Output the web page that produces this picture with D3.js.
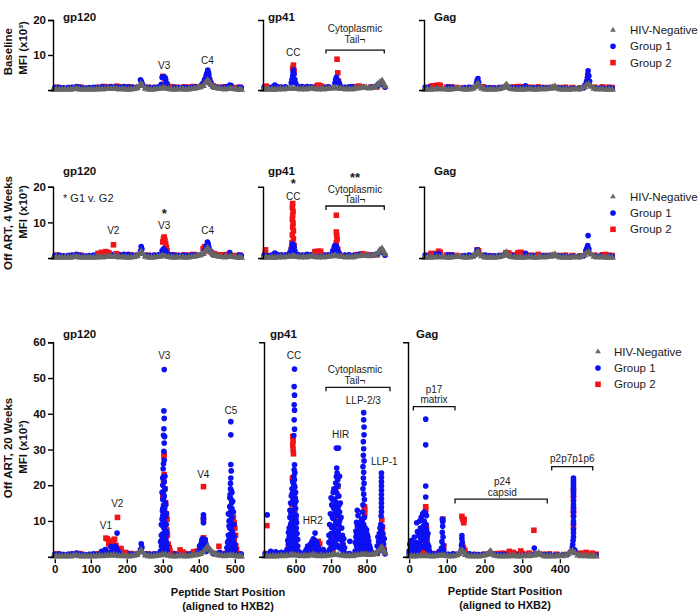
<!DOCTYPE html>
<html><head><meta charset="utf-8">
<script src="https://cdn.jsdelivr.net/npm/d3@7"></script>
<style>body{margin:0;background:#fff}svg{display:block}</style>
</head><body><svg id="c" width="700" height="613"></svg>
<script>
// ---------------- DATA ----------------
const proteins = ["gp120", "gp41", "Gag"];
const timepoints = ["Baseline", "Off ART, 4 Weeks", "Off ART, 20 Weeks"];
const seriesNames = ["HIV-Negative", "Group 1", "Group 2"];
const yTicksEarly = [10, 20];
const yTicksLate = [10, 20, 30, 40, 50, 60];
const xTicksGp120 = [0, 100, 200, 300, 400, 500];
const xTicksGp41 = [600, 700, 800];
const xTicksGag = [0, 100, 200, 300, 400];

// HIV-negative controls [peptide start, MFI x10^3]
const negGp120 = [[-4,.1],[4,.2],[12,.1],[20,.2],[28,.1],[36,.2],[44,.1],[52,.3],[60,.4],[68,.2],[76,.1],[84,.2],[92,.1],[100,.2],[108,.1],[116,.2],[124,.3],[132,.2],[140,.3],[148,.4],[156,.3],[164,.5],[172,.3],[180,.2],[188,.3],[196,.2],[204,.1],[212,.2],[220,.3],[228,.6],[236,1.3],[240,1.8],[244,1.2],[252,.4],[260,.2],[268,.1],[276,.2],[284,.3],[292,.4],[300,.6],[308,.5],[316,.3],[324,.2],[332,.1],[340,.2],[348,.3],[356,.2],[364,.1],[372,.2],[380,.3],[388,.4],[396,.6],[404,.8],[412,1.2],[418,2.0],[424,2.8],[428,2.4],[434,1.6],[440,1.0],[448,.6],[456,.4],[464,.3],[472,.2],[480,.3],[488,.4],[496,.3],[504,.2],[512,.1],[518,.1]];
const negGp41 = [[512,.1],[520,.2],[528,.1],[536,.2],[544,.1],[552,.2],[560,.3],[568,.2],[576,.3],[584,.4],[592,.5],[600,.4],[608,.3],[616,.2],[624,.3],[632,.2],[640,.4],[648,.5],[656,.3],[664,.2],[672,.3],[680,.2],[688,.3],[696,.4],[704,.5],[712,.6],[720,.5],[728,.4],[736,.3],[744,.2],[752,.3],[760,.2],[768,.4],[776,.5],[784,.6],[792,.7],[800,.6],[808,.5],[816,.6],[824,.8],[832,1.4],[838,2.2],[844,2.6],[848,1.8],[852,1.0]];
const negGag = [[-2,.1],[6,.2],[14,.1],[22,.2],[30,.3],[38,.2],[46,.3],[54,.2],[62,.1],[70,.2],[78,.3],[86,.4],[94,.3],[102,.2],[110,.1],[118,.2],[126,.4],[132,.8],[136,1.4],[140,1.8],[144,1.2],[150,.5],[158,.2],[166,.1],[174,.2],[182,.1],[190,.2],[198,.3],[206,.6],[212,1.1],[216,1.5],[220,.8],[228,.3],[236,.2],[244,.1],[252,.2],[260,.1],[268,.2],[276,.3],[284,.2],[292,.1],[300,.2],[308,.3],[316,.2],[324,.3],[332,.4],[338,.7],[344,1.0],[350,.5],[358,.2],[366,.1],[374,.2],[382,.1],[390,.2],[398,.3],[406,.2],[414,.4],[422,.8],[428,1.4],[434,1.6],[440,1.0],[448,.4],[456,.2],[464,.3],[472,.2],[480,.1],[488,.2],[496,.1]];

// Low-level background reactivity (all timepoints)
const g1LowGp120 = [[0,.7],[12,.8],[24,.6],[36,.7],[48,.8],[60,1.0],[72,.7],[84,.6],[96,.7],[108,.8],[120,.7],[132,.9],[144,.8],[156,1.0],[168,.9],[180,.8],[192,1.0],[204,.9],[216,.7],[228,.8],[252,.8],[264,.7],[276,.8],[288,.9],[320,.9],[332,.8],[344,.7],[356,.8],[368,.7],[380,.8],[392,.9],[440,.9],[452,.8],[464,.7],[476,.9],[512,.8],[518,.7]];
const g2LowGp120 = [[4,.8],[20,.6],[44,.7],[64,.9],[72,.8],[100,.6],[120,.8],[136,1.0],[150,.9],[172,1.1],[186,.9],[200,.8],[212,.9],[228,.7],[260,.8],[280,.7],[326,.9],[340,.8],[360,.9],[372,.8],[384,1.0],[396,.8],[444,.9],[456,.8],[470,.9],[500,.7],[514,.8]];
const g1LowGp41 = [[514,.8],[526,.7],[538,.9],[544,1.4],[550,1.0],[562,.8],[574,.9],[610,.9],[622,.8],[634,1.0],[646,.9],[658,.8],[670,.7],[682,.8],[694,.9],[740,.8],[752,.9],[764,.7],[776,.8],[816,.9],[828,1.0],[852,.8]];
const g2LowGp41 = [[516,.9],[530,.7],[560,.8],[620,.7],[644,.9],[662,1.2],[672,1.0],[690,.8],[740,.7],[770,.9],[780,1.0],[812,.8],[830,.9]];
const g1LowGag = [[0,.8],[12,.9],[24,1.0],[60,.9],[72,.8],[104,.7],[116,.8],[128,.7],[160,.8],[172,.7],[184,.6],[196,.7],[208,.8],[228,.7],[240,.6],[252,.7],[264,.8],[276,.6],[288,.7],[300,.6],[312,.7],[324,.6],[348,.7],[360,.6],[372,.5],[384,.4],[396,.5],[408,.4],[420,.6],[452,.5],[464,.6],[476,.5],[488,.6],[496,.5]];
const g2LowGag = [[4,.7],[16,1.0],[30,1.3],[40,1.2],[56,.8],[70,.9],[84,.7],[100,.6],[120,.7],[150,.8],[176,.6],[200,.7],[224,.8],[236,.9],[248,1.0],[262,.9],[280,.8],[300,.9],[320,.7],[336,.8],[356,.7],[372,.8],[390,.7],[410,.6],[450,.8],[470,.9],[486,.8],[496,.7]];

// Baseline
const baseG1Gp120 = [[238,2.9],[240,2.5],[242,2.0],[244,1.4],[296,1.6],[298,3.6],[300,3.8],[302,3.7],[304,3.8],[306,3.5],[308,3.0],[310,2.0],[312,1.3],[408,1.5],[412,2.0],[416,3.0],[420,4.0],[422,4.6],[424,5.2],[425,5.7],[427,5.0],[428,4.2],[430,3.2],[433,2.2],[436,1.4],[486,1.4],[490,1.3]];
const baseG2Gp120 = [[300,3.9],[306,3.2],[312,1.6],[318,1.0],[426,3.0],[430,2.6],[434,1.8],[440,1.2]];
const baseG1Gp41 = [[590,2.0],[592,3.0],[594,4.0],[595,5.0],[596,5.7],[598,4.5],[600,3.0],[602,2.0],[606,1.2],[620,1.0],[712,2.0],[714,3.0],[716,3.6],[720,2.8],[724,2.0],[726,1.4],[760,1.0],[832,1.5],[836,1.9],[840,1.6]];
const baseG2Gp41 = [[520,1.1],[594,6.2],[596,7.1],[598,5.5],[666,1.4],[672,1.2],[718,8.8],[720,4.9],[722,2.5],[778,1.1],[790,.9]];
const baseG1Gag = [[136,2.0],[138,2.8],[140,3.3],[142,2.2],[266,1.2],[424,1.5],[428,2.5],[430,3.5],[431,4.5],[432,5.5],[434,4.0],[436,2.5]];
const baseG2Gag = [[20,1.2],[36,1.4],[40,1.3],[138,1.3],[152,.9]];

// Off ART, 4 weeks
const w4G1Gp120 = [[60,.9],[204,1.0],[238,2.0],[240,3.2],[242,2.5],[298,2.0],[302,2.6],[304,2.3],[308,2.0],[312,1.2],[416,2.0],[420,3.0],[422,3.5],[424,4.5],[426,4.0],[428,3.0],[432,2.0],[486,1.5]];
const w4G2Gp120 = [[120,1.3],[130,1.6],[142,1.8],[150,1.5],[163,3.7],[170,1.2],[300,4.5],[302,5.5],[304,5.9],[306,5.0],[308,4.0],[310,3.0],[312,2.0],[412,2.6],[416,3.2],[420,2.0],[436,1.5],[444,1.2],[460,.9],[480,1.0]];
const w4G1Gp41 = [[586,1.5],[590,2.5],[592,3.5],[594,4.0],[596,3.8],[598,3.0],[600,2.0],[604,1.2],[706,2.0],[710,3.0],[712,3.5],[714,3.4],[716,3.2],[718,2.6],[720,2.0],[724,1.4],[780,1.0],[836,1.5],[840,2.1],[844,1.6]];
const w4G2Gp41 = [[518,2.3],[594,15.3],[593,14.2],[595,13.1],[594,12.0],[593,10.9],[595,9.8],[594,8.7],[596,7.6],[593,6.5],[596,5.4],[592,4.3],[598,3.5],[590,2.5],[656,1.8],[664,1.9],[672,1.9],[716,12.0],[716,7.3],[717,6.3],[718,5.3],[716,4.3],[714,3.3],[720,2.5],[790,1.2],[800,1.0]];
const w4G1Gag = [[36,1.2],[136,1.5],[138,2.3],[140,1.8],[266,1.3],[426,2.0],[428,2.5],[430,3.0],[431,3.5],[432,6.3],[434,2.5]];
const w4G2Gag = [[16,1.3],[36,1.9],[40,1.6],[138,2.3],[142,2.0],[214,1.5],[222,1.4],[246,1.5],[254,1.6],[262,1.2],[300,1.0],[478,1.0]];

// Off ART, 20 weeks
const w20G1Gp120 = [[130,1.5],[140,2.0],[150,1.2],[156,2.8],[160,2.4],[164,2.0],[168,3.0],[172,2.2],[173,6.6],[176,1.5],[238,2.0],[240,3.6],[242,2.6],
 [304,52.4],[303,40.8],[304,38.7],[303,35.8],[302,34.0],[305,33.6],[304,31.8],[303,29.5],[301,24.6],[302,22.4],[304,21.0],[300,20.0],[306,19.0],[302,18.2],[304,17.0],[300,16.0],[307,15.2],[302,14.4],[305,13.5],[299,12.8],[303,12.0],[308,11.2],[301,10.4],[305,9.6],[298,8.8],[303,8.0],[307,7.2],[300,6.4],[305,5.6],[298,4.8],[302,4.0],[306,3.2],[300,2.4],[304,1.8],[296,1.4],[310,2.0],[312,3.0],[309,6.0],[310,9.0],
 [296,6.0],[298,10.5],[300,13.5],[302,16.5],[304,8.5],[306,12.5],[308,14.5],[296,3.0],[298,18.0],[300,22.0],[306,22.5],[304,27.0],[302,26.0],[300,11.5],[308,5.0],[310,4.0],[294,1.6],[312,1.8],[294,4.2],[296,9.0],[310,12.0],[311,7.0],
 [400,1.5],[404,2.5],[406,3.5],[408,4.5],[410,5.0],[412,4.2],[414,3.0],[416,2.0],[418,4.8],[420,3.5],[413,9.5],[413,10.5],[413,11.0],[413,11.7],[422,1.5],[458,1.2],[402,3.0],[406,1.8],[410,2.5],[414,4.8],[416,3.5],[420,1.6],
 [489,37.8],[489,34.1],[489,25.8],[489,22.0],[488,19.0],[490,18.5],[487,17.4],[489,16.2],[491,15.0],[486,14.0],[490,13.2],[488,12.5],[485,11.8],[492,11.0],[487,10.2],[490,9.4],[484,8.6],[489,7.8],[493,7.0],[486,6.2],[491,5.4],[483,4.6],[488,3.8],[494,3.0],[485,2.2],[490,1.6],[497,2.5],[500,1.4],[480,1.5],[496,6.0],[498,9.0],
 [478,2.5],[482,6.0],[484,10.0],[486,16.5],[488,20.5],[490,24.0],[492,13.5],[494,9.0],[496,12.5],[498,5.5],[500,3.5],[502,2.2],[480,4.0],[486,8.0],[492,18.0],[494,15.5],[496,4.0],[482,12.0],[484,3.0]];
const w20G2Gp120 = [[142,5.2],[146,5.0],[150,3.6],[154,3.0],[158,4.2],[162,4.6],[166,4.9],[170,3.2],[174,11.0],[178,2.0],[184,2.3],[196,1.2],
 [304,28.8],[303,28.0],[304,23.0],[302,21.0],[306,19.0],[300,17.0],[308,15.0],[302,13.0],[310,12.0],[312,10.5],[306,9.0],[311,7.5],[313,6.0],[308,4.5],[315,3.5],[318,2.5],[320,1.6],[348,1.9],[356,1.3],[386,1.4],[396,1.6],
 [413,19.6],[413,10.2],[413,5.3],[418,4.0],[410,2.5],[456,2.9],[484,4.0],[482,2.0],[496,11.0],[498,9.5],[500,8.0],[494,6.5],[502,6.0],[498,4.5],[503,3.0],[505,2.0]];
const w20G1Gp41 = [[520,11.7],[530,1.5],[546,1.0],[560,1.2],
 [597,52.5],[596,47.6],[597,45.2],[596,42.5],[597,41.0],[596,38.3],[597,35.7],[595,33.9],[597,25.7],[596,24.3],[598,23.5],[595,22.5],[597,21.5],[594,20.5],[598,19.5],[593,18.5],[596,17.5],[599,16.5],[592,15.5],[597,14.5],[600,13.5],[590,12.5],[595,11.5],[601,10.5],[588,9.5],[596,8.5],[584,7.5],[592,7.0],[599,6.5],[582,5.5],[588,5.0],[594,4.5],[600,4.0],[580,3.5],[586,3.0],[592,2.5],[598,2.0],[604,1.6],[576,2.0],[572,1.2],[610,1.4],[586,9.0],[590,6.0],[584,11.0],[602,8.0],[603,5.0],[606,3.0],
 [578,4.5],[582,8.0],[584,13.0],[586,15.0],[588,17.0],[590,19.0],[592,21.0],[594,16.0],[596,12.0],[598,10.0],[600,7.0],[602,11.5],[604,6.5],[606,4.8],[580,6.8],[583,2.0],[589,3.8],[591,10.0],[593,13.0],[595,7.8],[597,5.6],[599,3.0],[601,2.2],[603,9.5],[605,2.8],[587,12.0],[585,5.8],[600,18.0],[598,15.0],[601,15.5],[590,17.5],[596,20.0],
 [632,1.5],[638,2.5],[642,3.5],[646,4.2],[650,5.0],[655,6.6],[652,3.0],[658,2.0],[660,4.0],[664,2.5],[670,1.5],[640,1.2],[626,1.2],[630,2.0],[634,3.0],[636,1.8],[644,2.0],[648,3.2],[654,4.5],[656,3.5],[662,3.2],[666,2.0],[674,1.2],[678,2.0],
 [715,30.4],[721,30.4],[716,24.8],[717,23.4],[715,22.4],[719,21.5],[713,20.6],[718,19.7],[712,18.8],[716,17.9],[720,17.0],[710,16.1],[714,15.2],[722,14.3],[708,13.4],[712,12.5],[718,11.6],[706,10.7],[714,9.8],[722,9.0],[702,8.2],[710,7.4],[718,6.6],[726,5.8],[700,5.0],[706,4.2],[714,3.4],[722,2.6],[730,2.0],[696,2.0],[692,1.4],[736,1.4],[704,11.0],[708,8.5],[700,6.5],[724,10.0],[720,13.0],[726,8.0],[730,4.5],[694,4.0],[753,4.3],
 [694,6.0],[696,9.0],[698,12.0],[700,3.0],[702,14.5],[704,16.0],[706,18.0],[708,19.0],[710,11.5],[712,9.0],[714,7.0],[716,5.0],[718,3.0],[720,7.0],[722,5.0],[724,12.5],[726,15.0],[728,11.0],[730,8.0],[732,6.0],[734,3.5],[736,5.0],[738,2.5],[698,2.0],[702,4.5],[704,6.5],[708,2.5],[710,4.0],[712,6.0],[716,9.5],[718,14.0],[720,20.0],[722,17.0],[724,22.5],[714,13.0],[706,14.0],[700,16.5],
 [792,40.3],[792,38.3],[793,36.3],[793,34.1],[791,32.2],[792,30.2],[791,28.4],[793,26.8],[790,25.2],[792,23.6],[791,22.0],[793,20.5],[790,19.0],[792,17.5],[794,16.0],[790,14.5],[774,13.0],[776,11.5],[788,12.5],[794,11.0],[772,9.6],[780,8.6],[788,9.8],[796,8.0],[770,7.2],[778,6.4],[786,6.8],[794,5.8],[802,6.2],[774,5.0],[782,4.2],[790,4.8],[798,3.6],[806,4.4],[772,3.0],[780,2.4],[788,2.0],[796,1.6],[804,2.6],[812,1.8],[768,1.6],
 [768,4.0],[770,5.5],[772,6.5],[774,8.5],[776,3.5],[778,9.5],[780,5.5],[782,7.5],[784,3.0],[786,5.0],[788,7.5],[790,3.5],[792,9.0],[794,2.5],[796,6.5],[798,5.0],[800,7.5],[802,3.5],[804,5.5],[806,2.0],[808,3.2],[810,2.5],[776,1.4],[784,1.8],[800,1.2],[786,10.5],[776,2.2],
 [842,23.4],[842,22.2],[842,21.0],[842,19.8],[842,18.6],[842,17.4],[842,16.2],[842,15.0],[842,13.8],[842,12.6],[841,11.4],[843,7.0],[840,6.0],[838,5.0],[834,4.2],[845,4.0],[830,3.0],[836,2.2],[846,2.4],[850,1.6],
 [832,5.5],[836,6.5],[838,8.0],[840,9.0],[844,8.5],[846,6.5],[848,3.5],[850,5.0],[834,1.5],[842,2.0]];
const w20G2Gp41 = [[519,8.7],[592,33.6],[593,32.4],[592,31.3],[593,30.0],[594,28.8],[591,22.0],[596,18.0],[590,14.5],[594,10.0],[589,8.6],[586,6.0],[598,12.0],[580,3.0],[596,3.5],[592,1.5],[664,4.3],[668,3.6],[660,2.0],[719,19.6],[717,14.0],[714,10.5],[722,8.0],[710,5.0],[725,3.0],[704,1.5],[794,14.0],[795,13.4],[795,12.0],[790,6.0],[796,4.5],[782,2.5],[800,2.0],[843,10.3],[845,8.2],[840,7.5],[846,5.5],[838,3.0],[850,2.0]];
const w20G1Gag = [[44,38.5],[44,31.3],[44,19.8],[44,16.7],[43,12.2],[46,11.5],[40,10.0],[45,9.0],[38,8.5],[46,7.6],[34,7.0],[42,6.2],[48,5.6],[30,5.2],[36,4.6],[44,4.0],[50,3.4],[26,3.8],[32,3.0],[40,2.6],[48,2.2],[20,2.6],[14,2.2],[8,2.9],[4,2.0],[0,1.6],[24,1.8],[54,1.5],[20,9.5],[30,8.0],[36,12.0],[40,12.5],[26,6.0],
 [2,3.5],[6,4.5],[10,3.0],[14,5.5],[18,4.0],[22,7.0],[28,10.0],[32,11.0],[34,5.0],[38,6.0],[42,9.0],[46,5.0],[50,6.5],[52,2.8],[12,1.6],[28,2.4],[16,3.2],
 [88,10.5],[89,9.8],[89,8.5],[88,6.8],[90,5.5],[87,4.2],[91,3.2],[86,2.4],[92,1.8],[80,1.5],
 [140,5.9],[140,5.0],[141,4.0],[139,3.2],[142,2.4],[138,1.8],[332,2.4],
 [436,22.0],[436,21.4],[436,20.8],[436,20.2],[436,19.6],[436,19.0],[436,18.4],[436,17.7],[436,16.9],[436,15.6],[436,14.6],[436,13.8],[436,12.6],[436,11.2],[436,10.0],[436,9.2],[436,7.6],[436,6.6],[436,5.5],[435,4.5],[434,3.4],[433,2.6],[438,2.0],[430,1.6],[440,1.4]];
const w20G2Gag = [[44,14.0],[44,13.2],[42,8.8],[46,8.2],[40,5.0],[48,4.2],[36,3.0],[52,2.0],[90,10.5],[92,3.0],[88,2.0],[140,11.3],[142,10.6],[144,10.0],[146,10.4],[145,9.5],[141,3.2],[144,2.6],[148,1.8],[266,1.5],[276,1.2],[296,1.6],[318,1.0],[331,7.4],[436,18.5],[436,16.4],[436,13.1],[436,11.8],[436,8.5],[440,1.5],[456,1.0],[470,1.2],[486,1.0]];

// ---------------- TABLES ----------------
const negative = {gp120: negGp120, gp41: negGp41, Gag: negGag};
const lowLevel = {gp120: {g1: g1LowGp120, g2: g2LowGp120}, gp41: {g1: g1LowGp41, g2: g2LowGp41}, Gag: {g1: g1LowGag, g2: g2LowGag}};
const peaks = [
  {gp120: {g1: baseG1Gp120, g2: baseG2Gp120}, gp41: {g1: baseG1Gp41, g2: baseG2Gp41}, Gag: {g1: baseG1Gag, g2: baseG2Gag}},
  {gp120: {g1: w4G1Gp120, g2: w4G2Gp120}, gp41: {g1: w4G1Gp41, g2: w4G2Gp41}, Gag: {g1: w4G1Gag, g2: w4G2Gag}},
  {gp120: {g1: w20G1Gp120, g2: w20G2Gp120}, gp41: {g1: w20G1Gp41, g2: w20G2Gp41}, Gag: {g1: w20G1Gag, g2: w20G2Gag}}
];
const xTicks = {gp120: xTicksGp120, gp41: xTicksGp41, Gag: xTicksGag};

// annotations in data coordinates; each entry may stack several lines (with optional significance stars)
const annotations = [
  [
    {p:"gp120", x:304, lines:[["V3", 6.9]]}, {p:"gp120", x:424, lines:[["C4", 8.3]]},
    {p:"gp41", x:595.7, lines:[["CC", 10.8]]},
    {p:"gp41", x:768, lines:[["Cytoplasmic", 17.5], ["Tail¬", 14.5]]}
  ],
  [
    {p:"gp120", x:22.8, note:true, lines:[["* G1 v. G2", 16.85]]},
    {p:"gp120", x:162.5, lines:[["V2", 7.67]]},
    {p:"gp120", x:304, lines:[["*", 13.6, true], ["V3", 9.1]]},
    {p:"gp120", x:424.7, lines:[["C4", 7.67]]},
    {p:"gp41", x:595.7, lines:[["*", 21.8, true], ["CC", 17.4]]},
    {p:"gp41", x:768, lines:[["**", 23.6, true], ["Cytoplasmic", 19.2], ["Tail¬", 16.4]]}
  ],
  [
    {p:"gp120", x:304.2, lines:[["V3", 56.2]]}, {p:"gp120", x:489.4, lines:[["C5", 41.0]]}, {p:"gp120", x:412.5, lines:[["V4", 23.1]]},
    {p:"gp120", x:173.6, lines:[["V2", 14.8]]}, {p:"gp120", x:142.2, lines:[["V1", 8.6]]},
    {p:"gp41", x:595.6, lines:[["CC", 56.4]]}, {p:"gp41", x:767.5, lines:[["Cytoplasmic", 52.4], ["Tail¬", 49.4]]},
    {p:"gp41", x:790.9, lines:[["LLP-2/3", 43.8]]}, {p:"gp41", x:727.2, lines:[["HIR", 34.1]]}, {p:"gp41", x:850, lines:[["LLP-1", 26.6]]}, {p:"gp41", x:648.3, lines:[["HR2", 10.1]]},
    {p:"Gag", x:66, lines:[["p17", 46.9], ["matrix", 44.1]]},
    {p:"Gag", x:247.1, lines:[["p24", 21.0], ["capsid", 18.1]]}, {p:"Gag", x:432.8, lines:[["p2p7p1p6", 27.5]]}
  ]
];
const brackets = [
  [{p:"gp41", x0:687, x1:850, v:11.4, v2:10.4}],
  [{p:"gp41", x0:687, x1:850, v:14.6, v2:13.5}],
  [{p:"gp41", x0:685.7, x1:866, v:47.4, v2:46.3},
   {p:"Gag", x0:11.1, x1:121.7, v:42.0, v2:40.9},
   {p:"Gag", x0:121.7, x1:366.5, v:16.1, v2:14.9},
   {p:"Gag", x0:378.2, x1:487, v:25.2, v2:24.1}]
];

// ---------------- LAYOUT ----------------
const FONT = '"Liberation Sans", Arial, Helvetica, sans-serif';
const colors = {neg: "#666666", g1: "#0c10f2", g2: "#f01418"};
const symbols = {
  neg: d3.symbol(d3.symbolTriangle, 24),
  g1: d3.symbol(d3.symbolCircle, 25),
  g2: d3.symbol(d3.symbolSquare, 31)
};
const legendSymbols = {
  neg: d3.symbol(d3.symbolTriangle, 14),
  g1: d3.symbol(d3.symbolCircle, 25),
  g2: d3.symbol(d3.symbolSquare, 31)
};
const rowLayout = [
  {yMax: 20, yBottom: 90, yTop: 20, ticks: yTicksEarly, titleY: 17, legend: {x: 613, y: 30, tx: 630},
   rowLabelY: [51.7, 48]},
  {yMax: 20, yBottom: 258, yTop: 186.8, ticks: yTicksEarly, titleY: 171, legend: {x: 613, y: 196.7, tx: 630},
   rowLabelY: [223, 212]},
  {yMax: 60, yBottom: 556.7, yTop: 342.3, ticks: yTicksLate, titleY: 334, legend: {x: 598, y: 351.7, tx: 614},
   rowLabelY: [448, 447]}
];
const panelLayout = [
  {gp120: {dom: [-5, 520], rng: [53, 242], tx: 63}, gp41: {dom: [511, 852], rng: [263, 385], tx: 268}, Gag: {dom: [-3, 490], rng: [424, 610], tx: 434}},
  {gp120: {dom: [-5, 520], rng: [53, 242], tx: 63}, gp41: {dom: [511, 852], rng: [263, 385], tx: 268}, Gag: {dom: [-3, 490], rng: [424, 610], tx: 434}},
  {gp120: {dom: [-5, 520], rng: [53, 242], tx: 63}, gp41: {dom: [511, 852], rng: [264, 385], tx: 270}, Gag: {dom: [-3, 500], rng: [408, 597.6], tx: 416}}
];

const svg = d3.select("#c").style("font-family", FONT);

timepoints.forEach((tp, r) => {
  const L = rowLayout[r];
  const y = d3.scaleLinear().domain([0, L.yMax]).range([L.yBottom, L.yTop]);
  const xs = {};
  proteins.forEach(p => {
    const P = panelLayout[r][p];
    const x = d3.scaleLinear().domain(P.dom).range(P.rng);
    xs[p] = x;
    const g = svg.append("g");
    const layers = [
      ["g2", lowLevel[p].g2], ["g1", lowLevel[p].g1],
      ["g2", peaks[r][p].g2], ["g1", peaks[r][p].g1],
      ["neg", negative[p]]
    ];
    layers.forEach(([k, arr]) => {
      g.append("g").selectAll("path").data(arr).join("path")
        .attr("d", symbols[k]).attr("fill", colors[k])
        .attr("transform", d => `translate(${x(d[0])},${y(d[1])})`);
    });
    // y axis
    const ya = d3.axisLeft(y).tickSizeOuter(0).tickSize(5).tickPadding(2)
      .tickValues(p === "gp120" ? L.ticks : []).tickFormat(d3.format("d"));
    const yg = g.append("g").attr("transform", `translate(${P.rng[0]},0)`).call(ya);
    yg.select(".domain").attr("stroke", "#000").attr("stroke-width", 1.4);
    yg.selectAll(".tick line").attr("stroke", "#000").attr("stroke-width", 1.4);
    yg.selectAll(".tick text").attr("font-family", FONT).attr("font-size", 11.5)
      .attr("font-weight", "bold").attr("fill", "#111");
    // x axis (20 weeks only)
    if (r === 2) {
      const xa = d3.axisBottom(x).tickValues(xTicks[p]).tickSize(4).tickSizeOuter(0).tickPadding(2);
      const xg = g.append("g").attr("transform", `translate(0,${L.yBottom + 2.5})`).call(xa);
      xg.select(".domain").remove();
      xg.selectAll(".tick line").attr("stroke", "#000").attr("stroke-width", 1.4);
      xg.selectAll(".tick text").attr("font-family", FONT).attr("font-size", 11.5)
        .attr("font-weight", "bold").attr("fill", "#111");
    }
    // panel title
    svg.append("text").attr("x", P.tx).attr("y", L.titleY).attr("dominant-baseline", "central")
      .attr("font-size", 11.5).attr("font-weight", "bold").attr("fill", "#111").text(p);
  });

  // annotations (one text element per stacked label)
  annotations[r].forEach(a => {
    const xx = xs[a.p](a.x);
    const t = svg.append("text").attr("x", xx).attr("fill", "#1a1a1a")
      .attr("text-anchor", a.note ? "start" : "middle");
    a.lines.forEach(([s, v, star]) => {
      const ts = t.append("tspan").attr("x", xx).attr("y", y(v)).attr("dominant-baseline", "central").text(s);
      if (star) ts.attr("font-size", 13).attr("font-weight", "bold").attr("dy", "0.27em");
      else ts.attr("font-size", a.note ? 11 : 10);
    });
  });
  brackets[r].forEach(b => {
    const x = xs[b.p];
    const path = d3.path();
    path.moveTo(x(b.x0), y(b.v2)); path.lineTo(x(b.x0), y(b.v));
    path.lineTo(x(b.x1), y(b.v)); path.lineTo(x(b.x1), y(b.v2));
    svg.append("path").attr("d", path.toString()).attr("fill", "none")
      .attr("stroke", "#111").attr("stroke-width", 1.3);
  });

  // legend
  const keys = ["neg", "g1", "g2"];
  keys.forEach((k, i) => {
    const ly = L.legend.y + i * 16.3;
    svg.append("path").attr("d", legendSymbols[k]).attr("fill", colors[k])
      .attr("transform", `translate(${L.legend.x},${ly})`);
    svg.append("text").attr("x", L.legend.tx).attr("y", ly).attr("dominant-baseline", "central")
      .attr("font-size", 11.5).attr("fill", "#1a1a1a").text(seriesNames[i]);
  });

  // row labels (rotated)
  const lines = [tp, "MFI (x10³)"];
  lines.forEach((ln, i) => {
    svg.append("text").attr("transform", `translate(${i === 0 ? 7.5 : 22.5},${L.rowLabelY[i]}) rotate(-90)`)
      .attr("text-anchor", "middle").attr("dominant-baseline", "central")
      .attr("font-size", 11.5).attr("font-weight", "bold").attr("fill", "#111").text(ln);
  });
});

// x-axis titles
[[228, "Peptide Start Position", 591.5], [228, "(aligned to HXB2)", 605.5],
 [505, "Peptide Start Position", 591], [505, "(aligned to HXB2)", 605]].forEach(([x, t, yy]) => {
  svg.append("text").attr("x", x).attr("y", yy).attr("text-anchor", "middle").attr("dominant-baseline", "central")
    .attr("font-size", 11).attr("font-weight", "bold").attr("fill", "#111").text(t);
});
</script></body></html>
